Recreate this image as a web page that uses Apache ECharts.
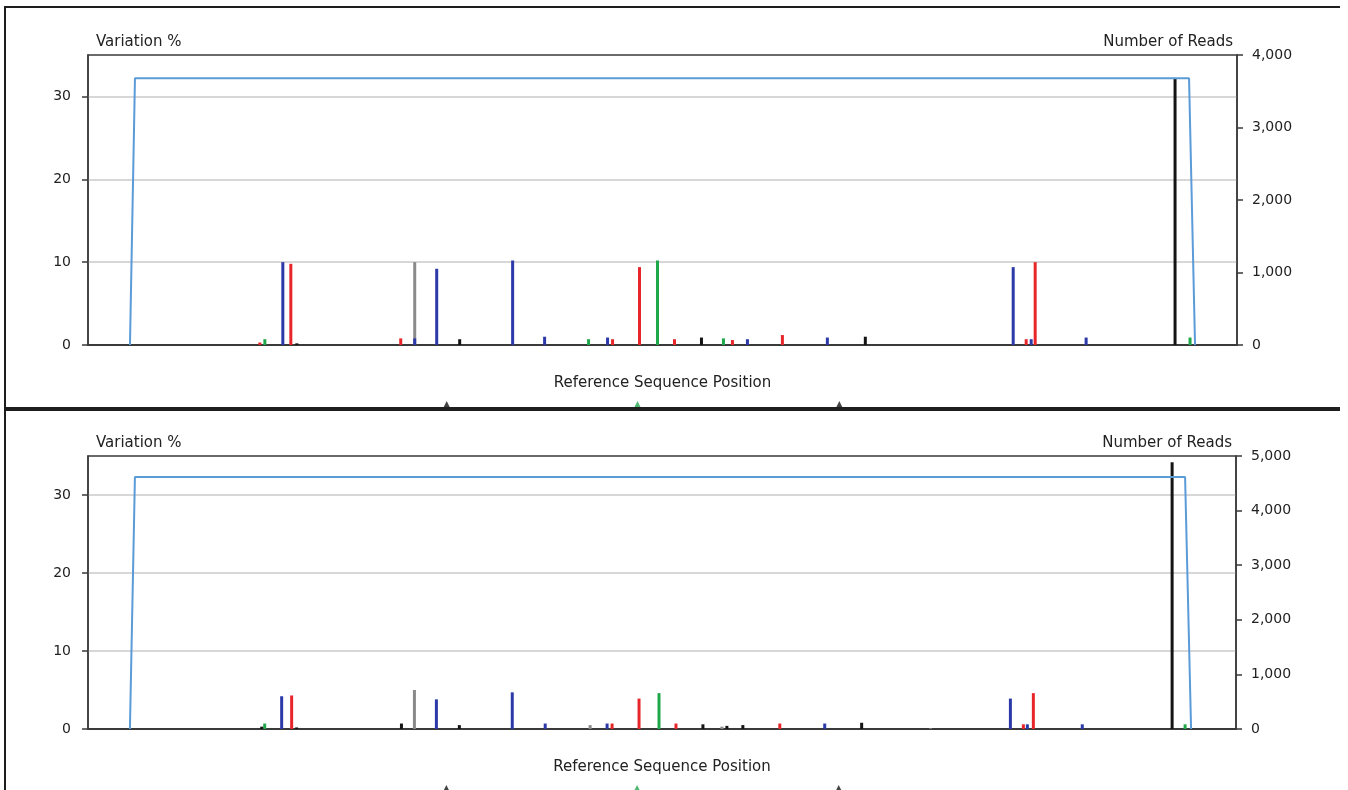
<!DOCTYPE html>
<html>
<head>
<meta charset="utf-8">
<script src="https://cdn.jsdelivr.net/npm/echarts@6/dist/echarts.min.js"></script>
<style>
  html, body { margin: 0; padding: 0; background: #fff; width: 1348px; height: 790px; overflow: hidden; }
  .panel { position: absolute; box-sizing: border-box; border: 2px solid #1e1e1e; border-right: none;
           overflow: hidden; background: #fff; }
  #p1 { left: 4px; top: 6px; width: 1336px; height: 403px; }
  #p2 { left: 4px; top: 409px; width: 1336px; height: 420px; }
  .chart { width: 100%; height: 100%; }
</style>
</head>
<body>
<div class="panel" id="p1"><div class="chart" id="c1"></div></div>
<div class="panel" id="p2"><div class="chart" id="c2"></div></div>
<script>
// Length of the reference sequence (x axis extent)
const seqLength = 1150;

// Axis tick settings
const variationMax = 35;
const variationTicks = [0, 10, 20, 30];
const p1ReadsMax = 4000;
const p2ReadsMax = 5000;
const readsStep = 1000;

// ---- Sample 1: variation % per position, split by called base ----
const p1BaseA = [[177, 0.7], [501, 0.7], [570, 10.2], [636, 0.8], [1103, 0.9]];
const p1BaseC = [[195, 10.0], [327, 0.8], [349, 9.2], [425, 10.2], [457, 1.0], [520, 0.9],
                 [660, 0.7], [740, 0.9], [926, 9.4], [944, 0.7], [999, 0.9]];
const p1BaseG = [[209, 0.2], [372, 0.7], [614, 0.9], [778, 1.0], [1088, 32.2]];
const p1BaseT = [[172, 0.3], [203, 9.8], [313, 0.8], [525, 0.7], [552, 9.4], [587, 0.7],
                 [645, 0.6], [695, 1.2], [939, 0.7], [948, 10.0]];
const p1Gap   = [[327, 10.0]];
// coverage outline (number of reads)
const p1Coverage = [[42, 0], [47, 3680], [1102, 3680], [1108, 0]];

// ---- Sample 2 ----
const p2BaseA = [[177, 0.7], [572, 4.6], [1099, 0.6]];
const p2BaseC = [[194, 4.2], [349, 3.8], [425, 4.7], [458, 0.7], [520, 0.7], [738, 0.7],
                 [924, 3.9], [941, 0.6], [996, 0.6]];
const p2BaseG = [[174, 0.3], [209, 0.2], [314, 0.7], [372, 0.5], [616, 0.6], [640, 0.4],
                 [656, 0.5], [775, 0.8], [1086, 34.2]];
const p2BaseT = [[204, 4.3], [525, 0.7], [552, 3.9], [589, 0.7], [693, 0.7], [937, 0.6], [947, 4.6]];
const p2Gap   = [[327, 5.0], [503, 0.5], [635, 0.3], [844, 0.1]];
const p2Coverage = [[42, 0], [47, 4615], [1099, 4615], [1105, 0]];

// Annotated positions shown as markers under the axis
const markerPositions = [359, 550, 752];
const markerBases = ['G', 'A', 'G'];

const baseColors = { A: '#1fa84a', C: '#2c39a8', G: '#141414', T: '#e8262a', Gap: '#8a8a8a' };
const font = 'DejaVu Sans';

function buildOption(cfg) {
  const barSeries = (name, data, color) => ({
    name, type: 'bar', data, barWidth: 3, barGap: '-100%',
    xAxisIndex: 0, yAxisIndex: 0,
    itemStyle: { color }, z: 3, silent: true
  });
  return {
    animation: false,
    backgroundColor: '#fff',
    grid: [
      { left: cfg.left, top: cfg.top, width: cfg.width, height: cfg.height,
        show: true, borderColor: '#3a3a3a', borderWidth: 1.5, backgroundColor: 'transparent' },
      { left: cfg.left, top: cfg.markerTop, width: cfg.width, height: 18, show: false }
    ],
    xAxis: [
      { type: 'value', gridIndex: 0, min: 0, max: seqLength,
        name: 'Reference Sequence Position', nameLocation: 'middle', nameGap: 31,
        nameTextStyle: { fontFamily: font, fontSize: 15, color: '#222' },
        axisLine: { show: true, lineStyle: { color: '#3a3a3a', width: 2 } },
        axisTick: { show: false }, axisLabel: { show: false }, splitLine: { show: false } },
      { type: 'value', gridIndex: 1, min: 0, max: seqLength, show: false }
    ],
    yAxis: [
      { type: 'value', gridIndex: 0, position: 'left', min: 0, max: variationMax,
        name: 'Variation %', nameLocation: 'end', nameGap: 5,
        nameTextStyle: { fontFamily: font, fontSize: 15, color: '#222', align: 'left', padding: [0, 0, 0, 8] },
        axisLine: { show: true, lineStyle: { color: '#3a3a3a', width: 1.5 } },
        axisTick: { show: true, length: 6, customValues: variationTicks, lineStyle: { color: '#3a3a3a', width: 1.5 } },
        axisLabel: { margin: 17, fontFamily: font, fontSize: 14, color: '#222', customValues: variationTicks },
        splitLine: { show: true, lineStyle: { color: '#cacaca', width: 1.5 } } },
      { type: 'value', gridIndex: 0, position: 'right', min: 0, max: cfg.readsMax, interval: readsStep,
        name: 'Number of Reads', nameLocation: 'end', nameGap: 5,
        nameTextStyle: { fontFamily: font, fontSize: 15, color: '#222', align: 'right', padding: [0, 4, 0, 0] },
        axisLine: { show: true, lineStyle: { color: '#3a3a3a', width: 1.5 } },
        axisTick: { show: true, length: 6, lineStyle: { color: '#3a3a3a', width: 1.5 } },
        axisLabel: { margin: 15, fontFamily: font, fontSize: 14, color: '#222',
                     formatter: v => v.toLocaleString('en-US') },
        splitLine: { show: false } },
      { type: 'value', gridIndex: 1, min: 0, max: 1, show: false }
    ],
    series: [
      barSeries('Gap', cfg.gap, baseColors.Gap),
      barSeries('A', cfg.a, baseColors.A),
      barSeries('C', cfg.c, baseColors.C),
      barSeries('T', cfg.t, baseColors.T),
      barSeries('G', cfg.g, baseColors.G),
      { name: 'Reads', type: 'line', xAxisIndex: 0, yAxisIndex: 1, data: cfg.coverage,
        symbol: 'none', lineStyle: { color: '#5b9bd8', width: 2 }, z: 5, silent: true },
      { name: 'Markers', type: 'scatter', xAxisIndex: 1, yAxisIndex: 2, symbol: 'triangle', symbolSize: 10,
        clip: false,
        data: markerPositions.map((p, i) => ({ value: [p, 0], itemStyle: { color: baseColors[markerBases[i]] } })),
        silent: true }
    ]
  };
}

const chart1 = echarts.init(document.getElementById('c1'), null, { renderer: 'canvas' });
chart1.setOption(buildOption({
  left: 82, top: 47, width: 1149, height: 290, markerTop: 380, readsMax: p1ReadsMax,
  a: p1BaseA, c: p1BaseC, g: p1BaseG, t: p1BaseT, gap: p1Gap, coverage: p1Coverage
}));

const chart2 = echarts.init(document.getElementById('c2'), null, { renderer: 'canvas' });
chart2.setOption(buildOption({
  left: 82, top: 45, width: 1148, height: 273, markerTop: 361, readsMax: p2ReadsMax,
  a: p2BaseA, c: p2BaseC, g: p2BaseG, t: p2BaseT, gap: p2Gap, coverage: p2Coverage
}));
</script>
</body>
</html>
